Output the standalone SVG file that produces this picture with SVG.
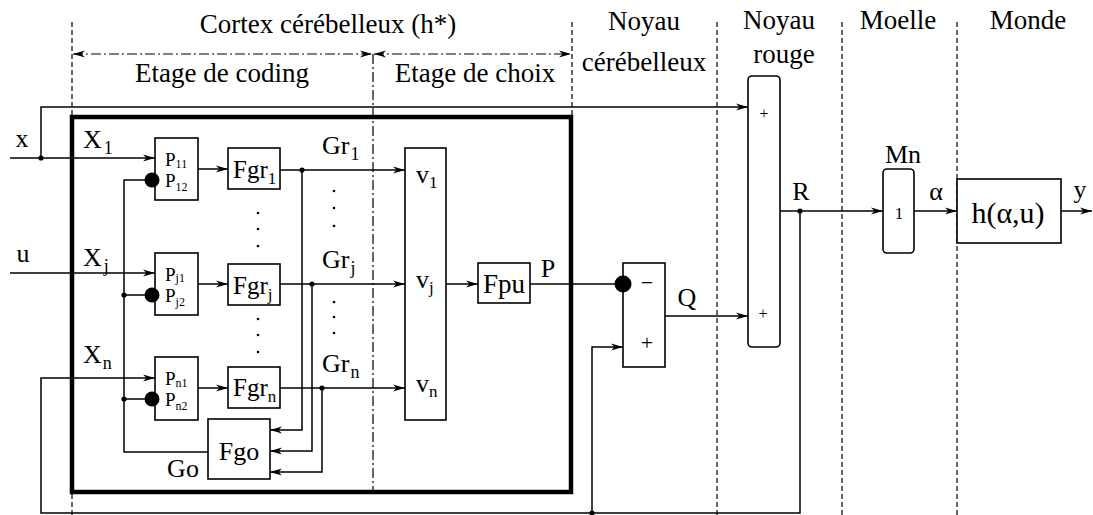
<svg xmlns="http://www.w3.org/2000/svg" width="1093" height="515" viewBox="0 0 1093 515">
<defs>
<marker id="ah" viewBox="0 0 12 8" markerWidth="12" markerHeight="8" refX="12" refY="4" orient="auto-start-reverse" markerUnits="userSpaceOnUse">
<path d="M0,0.6 L12,4 L0,7.4 L3.5,4 Z" fill="#000"/>
</marker>
</defs>
<style>
text { font-family: "Liberation Serif", "Tinos", "Times New Roman", "DejaVu Serif", serif; fill: #000; }
.h { font-size: 27px; text-anchor: middle; }
.l { font-size: 26px; }
.m { text-anchor: middle; }
.sub { font-size: 18px; }
.p { font-size: 19px; }
.ps { font-size: 12px; }
.box { fill: #fff; stroke: #000; stroke-width: 1.6; }
.w { fill: none; stroke: #000; stroke-width: 1.5; }
.dash { fill: none; stroke: #000; stroke-width: 1.2; stroke-dasharray: 5 3; }
.dd { fill: none; stroke: #000; stroke-width: 1.2; stroke-dasharray: 10 3 2 3; }
.jd { fill: #000; }
.dt { fill: #000; }
</style>
<rect x="0" y="0" width="1093" height="515" fill="#fff"/>

<g id="guides">
<line class="dash" x1="72" y1="22" x2="72" y2="515"/>
<line class="dd" x1="373" y1="54" x2="373" y2="492"/>
<line class="dash" x1="572" y1="22" x2="572" y2="117"/>
<line class="dash" x1="717" y1="22" x2="717" y2="515"/>
<line class="dash" x1="842" y1="22" x2="842" y2="515"/>
<line class="dash" x1="957" y1="22" x2="957" y2="515"/>
<path class="dd" d="M73,54 H372" marker-start="url(#ah)" marker-end="url(#ah)"/>
<path class="dd" d="M374,54 H571" marker-start="url(#ah)" marker-end="url(#ah)"/>
</g>

<g id="headers">
<text class="h" x="328" y="33">Cortex cérébelleux (h*)</text>
<text class="h" x="222" y="82">Etage de coding</text>
<text class="h" x="475" y="82">Etage de choix</text>
<text class="h" x="644" y="30">Noyau</text>
<text class="h" x="644" y="71">cérébelleux</text>
<text class="h" x="779" y="29">Noyau</text>
<text class="h" x="784" y="63">rouge</text>
<text class="h" x="898" y="29">Moelle</text>
<text class="h" x="1028" y="29">Monde</text>
</g>

<g id="cortex-frame">
<rect x="72" y="117" width="499" height="375" fill="none" stroke="#000" stroke-width="4.5"/>
</g>

<g id="connectors">
<path class="w" d="M41,158 V107 H748" marker-end="url(#ah)"/>
<path class="w" d="M10,158 H155" marker-end="url(#ah)"/>
<path class="w" d="M10,273 H155" marker-end="url(#ah)"/>
<path class="w" d="M800,211 V513 H41 V378 H155" marker-end="url(#ah)"/>
<path class="w" d="M145,180 H124 V452 H208"/>
<path class="w" d="M124,295 H145"/>
<path class="w" d="M124,399 H145"/>
<path class="w" d="M198,169 H228" marker-end="url(#ah)"/>
<path class="w" d="M198,284 H228" marker-end="url(#ah)"/>
<path class="w" d="M198,388 H228" marker-end="url(#ah)"/>
<path class="w" d="M280,170 H405" marker-end="url(#ah)"/>
<path class="w" d="M280,284 H405" marker-end="url(#ah)"/>
<path class="w" d="M280,388 H405" marker-end="url(#ah)"/>
<path class="w" d="M302,170 V430 H270" marker-end="url(#ah)"/>
<path class="w" d="M312,284 V451 H270" marker-end="url(#ah)"/>
<path class="w" d="M322,388 V472 H270" marker-end="url(#ah)"/>
<path class="w" d="M446,284 H478" marker-end="url(#ah)"/>
<path class="w" d="M530,284 H615"/>
<path class="w" d="M665,316 H748" marker-end="url(#ah)"/>
<path class="w" d="M592,513 V347 H623" marker-end="url(#ah)"/>
<path class="w" d="M780,211 H883" marker-end="url(#ah)"/>
<path class="w" d="M914,211 H957" marker-end="url(#ah)"/>
<path class="w" d="M1061,211 H1092" marker-end="url(#ah)"/>
<circle class="jd" cx="41" cy="158" r="2.6"/>
<circle class="jd" cx="302" cy="170" r="2.6"/>
<circle class="jd" cx="312" cy="284" r="2.6"/>
<circle class="jd" cx="322" cy="388" r="2.6"/>
<circle class="jd" cx="124" cy="295" r="2.6"/>
<circle class="jd" cx="124" cy="399" r="2.6"/>
<circle class="jd" cx="592" cy="513" r="2.6"/>
<circle class="jd" cx="800" cy="211" r="2.6"/>
</g>

<g id="labels">
<text class="l m" x="22" y="147">x</text>
<text class="l m" x="23" y="262">u</text>
<text class="l" x="83" y="148">X<tspan class="sub" dx="2" dy="6">1</tspan></text>
<text class="l" x="83" y="266">X<tspan class="sub" dx="2" dy="6">j</tspan></text>
<text class="l" x="83" y="363">X<tspan class="sub" dx="1" dy="6">n</tspan></text>
<text class="l" x="322" y="154">Gr<tspan class="sub" dx="1" dy="6">1</tspan></text>
<text class="l" x="322" y="268">Gr<tspan class="sub" dx="1" dy="6">j</tspan></text>
<text class="l" x="322" y="372">Gr<tspan class="sub" dx="1" dy="6">n</tspan></text>
<text class="l m" x="183" y="477">Go</text>
<text class="l m" x="548" y="277">P</text>
<text class="l m" x="687" y="306">Q</text>
<text class="l m" x="801" y="200">R</text>
<text class="l m" x="903" y="163">Mn</text>
<text class="l m" x="936" y="200">α</text>
<text class="l m" x="1080" y="198">y</text>
</g>

<g id="P1">
<rect class="box" x="155" y="138" width="43" height="62"/>
<circle cx="152" cy="180" r="7.5" fill="#000"/>
<text class="p" x="165" y="166">P<tspan class="ps" dy="2">11</tspan></text>
<text class="p" x="165" y="187">P<tspan class="ps" dy="4">12</tspan></text>
</g>
<g id="Pj">
<rect class="box" x="155" y="253" width="43" height="62"/>
<circle cx="152" cy="295" r="7.5" fill="#000"/>
<text class="p" x="165" y="281">P<tspan class="ps" dy="1">j1</tspan></text>
<text class="p" x="165" y="302">P<tspan class="ps" dy="4">j2</tspan></text>
</g>
<g id="Pn">
<rect class="box" x="155" y="357" width="43" height="63"/>
<circle cx="152" cy="399" r="7.5" fill="#000"/>
<text class="p" x="165" y="385">P<tspan class="ps" dy="2">n1</tspan></text>
<text class="p" x="165" y="406">P<tspan class="ps" dy="4">n2</tspan></text>
</g>

<g id="Fgr1">
<rect class="box" x="228" y="148" width="52" height="41"/>
<text x="233" y="178" font-size="25">Fgr<tspan font-size="17" dy="6">1</tspan></text>
</g>
<g id="Fgrj">
<rect class="box" x="228" y="264" width="52" height="41"/>
<text x="233" y="294" font-size="25">Fgr<tspan font-size="17" dy="6">j</tspan></text>
</g>
<g id="Fgrn">
<rect class="box" x="228" y="367" width="52" height="41"/>
<text x="233" y="396" font-size="25">Fgr<tspan font-size="17" dy="6">n</tspan></text>
</g>

<g id="dots">
<circle class="dt" cx="258" cy="213" r="1.3"/>
<circle class="dt" cx="258" cy="229" r="1.3"/>
<circle class="dt" cx="258" cy="246" r="1.3"/>
<circle class="dt" cx="258" cy="319" r="1.3"/>
<circle class="dt" cx="258" cy="335" r="1.3"/>
<circle class="dt" cx="258" cy="352" r="1.3"/>
<circle class="dt" cx="334" cy="191" r="1.3"/>
<circle class="dt" cx="334" cy="208" r="1.3"/>
<circle class="dt" cx="334" cy="226" r="1.3"/>
<circle class="dt" cx="334" cy="302" r="1.3"/>
<circle class="dt" cx="334" cy="317" r="1.3"/>
<circle class="dt" cx="334" cy="333" r="1.3"/>
<circle class="dt" cx="428" cy="217" r="1.3"/>
<circle class="dt" cx="428" cy="235" r="1.3"/>
<circle class="dt" cx="428" cy="252" r="1.3"/>
<circle class="dt" cx="428" cy="330" r="1.3"/>
<circle class="dt" cx="428" cy="347" r="1.3"/>
<circle class="dt" cx="428" cy="362" r="1.3"/>
</g>

<g id="Fgo">
<rect class="box" x="208" y="419" width="62" height="60"/>
<text x="239" y="460" font-size="26" text-anchor="middle">Fgo</text>
</g>

<g id="V">
<rect class="box" x="405" y="148" width="41" height="272"/>
<text class="l" x="416" y="183">v<tspan font-size="17" dy="5">1</tspan></text>
<text class="l" x="416" y="288">v<tspan font-size="17" dy="5">j</tspan></text>
<text class="l" x="416" y="392">v<tspan font-size="17" dy="5">n</tspan></text>
</g>

<g id="Fpu">
<rect class="box" x="478" y="263" width="52" height="40"/>
<text x="504" y="293" font-size="27" text-anchor="middle">Fpu</text>
</g>

<g id="sum">
<rect class="box" x="623" y="263" width="42" height="104"/>
<circle cx="623" cy="284" r="8.5" fill="#000"/>
<text x="647" y="290" font-size="22" text-anchor="middle">−</text>
<text x="647" y="350" font-size="22" text-anchor="middle">+</text>
</g>

<g id="noyau-rouge">
<rect class="box" x="748" y="76" width="32" height="271" rx="4"/>
<text x="764" y="119" font-size="16" text-anchor="middle">+</text>
<text x="763" y="319" font-size="16" text-anchor="middle">+</text>
</g>

<g id="Mn">
<rect class="box" x="883" y="169" width="31" height="84" rx="4"/>
<text x="899" y="219" font-size="17" text-anchor="middle">1</text>
</g>

<g id="h">
<rect class="box" x="957" y="179" width="104" height="64"/>
<text x="1008" y="223" font-size="30" text-anchor="middle">h(α,u)</text>
</g>
</svg>
